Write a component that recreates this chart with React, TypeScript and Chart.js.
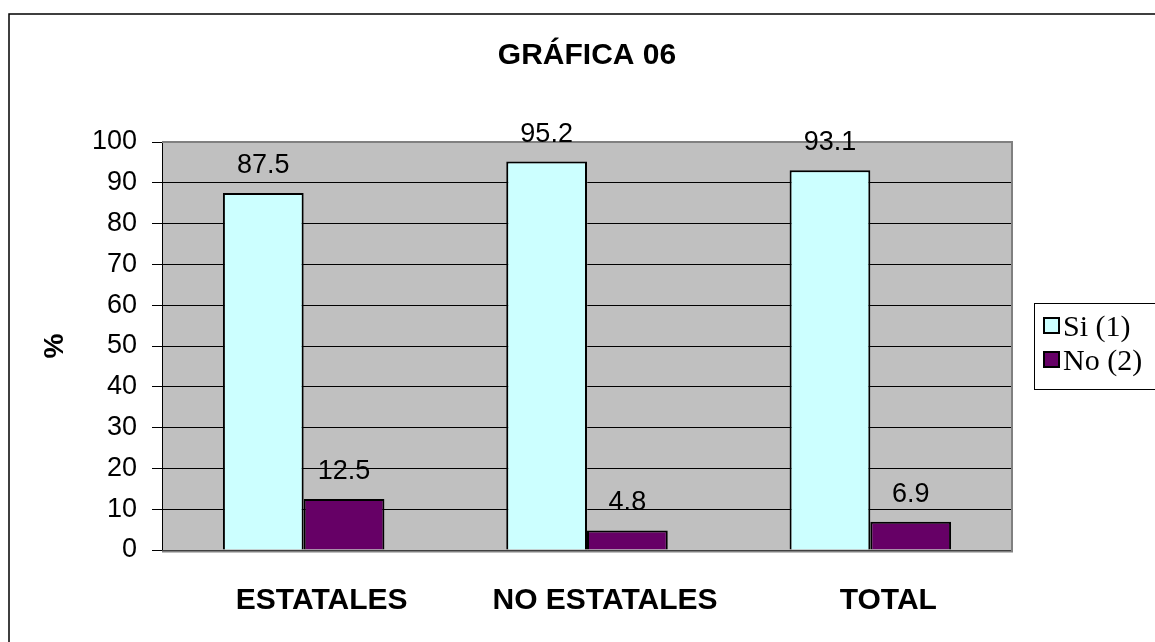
import React, { useEffect, useRef } from "react";
import { Chart, registerables } from "chart.js";

Chart.register(...registerables);

const chartTitle = "GRÁFICA 06";
const yAxisTitle = "%";
const categories = ["ESTATALES", "NO ESTATALES", "TOTAL"];
const seriesNames = ["Si (1)", "No (2)"];
const siValues = [87.5, 95.2, 93.1];
const noValues = [12.5, 4.8, 6.9];
const yMin = 0;
const yMax = 100;
const yStep = 10;

const SANS = "'Liberation Sans', Arial, sans-serif";
const SERIF = "'Liberation Serif', 'Times New Roman', serif";

const backgroundPlugin = {
  id: "bgFrame",
  beforeDraw(chart: any) {
    const { ctx, chartArea: a } = chart;
    ctx.save();
    ctx.fillStyle = "#ffffff";
    ctx.fillRect(0, 0, chart.width, chart.height);
    ctx.fillStyle = "#C0C0C0";
    ctx.fillRect(a.left, a.top, a.right - a.left, a.bottom - a.top);
    ctx.strokeStyle = "#000000";
    ctx.lineWidth = 1.5;
    ctx.strokeRect(9, 14, chart.width + 40, chart.height + 40);
    ctx.restore();
  },
  beforeDatasetsDraw(chart: any) {
    const { ctx, chartArea: a } = chart;
    ctx.save();
    ctx.strokeStyle = "#808080";
    ctx.lineWidth = 2;
    ctx.beginPath();
    ctx.moveTo(a.left, a.top);
    ctx.lineTo(a.right, a.top);
    ctx.lineTo(a.right, a.bottom + 1.5);
    ctx.lineTo(a.left, a.bottom + 1.5);
    ctx.stroke();
    ctx.restore();
  },
};

const valueLabelPlugin = {
  id: "valueLabels",
  afterDatasetsDraw(chart: any) {
    const { ctx } = chart;
    ctx.save();
    ctx.fillStyle = "#000000";
    ctx.font = `27px ${SANS}`;
    ctx.textAlign = "center";
    ctx.textBaseline = "alphabetic";
    chart.data.datasets.forEach((ds: any, di: number) => {
      const meta = chart.getDatasetMeta(di);
      meta.data.forEach((el: any, i: number) => {
        ctx.fillText(String(ds.data[i]), el.x, el.y - 20);
      });
    });
    ctx.restore();
  },
};

const legendPlugin = {
  id: "boxLegend",
  afterDraw(chart: any) {
    const { ctx } = chart;
    ctx.save();
    ctx.fillStyle = "#ffffff";
    ctx.fillRect(1034, 303, 200, 86);
    ctx.strokeStyle = "#000000";
    ctx.lineWidth = 1;
    ctx.strokeRect(1034.5, 303.5, 200, 86);
    chart.data.datasets.forEach((ds: any, i: number) => {
      const y = 318 + i * 34;
      ctx.fillStyle = ds.backgroundColor;
      ctx.fillRect(1044, y, 15, 15);
      ctx.strokeStyle = "#000000";
      ctx.lineWidth = 2;
      ctx.strokeRect(1044, y, 15, 15);
      ctx.fillStyle = "#000000";
      ctx.font = `30px ${SERIF}`;
      ctx.textAlign = "left";
      ctx.textBaseline = "alphabetic";
      ctx.fillText(ds.label, 1063, 336 + i * 34);
    });
    ctx.restore();
  },
};

export default function App() {
  const canvasRef = useRef<HTMLCanvasElement | null>(null);

  useEffect(() => {
    if (!canvasRef.current) return;
    const chart = new Chart(canvasRef.current, {
      type: "bar",
      data: {
        labels: categories,
        datasets: [
          {
            label: seriesNames[0],
            data: siValues,
            backgroundColor: "#CCFFFF",
            borderColor: "#000000",
            borderWidth: 2,
            categoryPercentage: 0.57,
            barPercentage: 1.0,
          },
          {
            label: seriesNames[1],
            data: noValues,
            backgroundColor: "#660066",
            borderColor: "#000000",
            borderWidth: 2,
            categoryPercentage: 0.57,
            barPercentage: 1.0,
          },
        ],
      },
      options: {
        responsive: false,
        animation: false,
        layout: { padding: { left: 30, right: 143, top: 0, bottom: 0 } },
        plugins: {
          legend: { display: false },
          tooltip: { enabled: false },
          title: {
            display: true,
            text: chartTitle,
            fullSize: false,
            color: "#000000",
            font: { family: SANS, size: 30, weight: "bold" },
            padding: { top: 38, bottom: 68 },
          },
        },
        scales: {
          x: {
            grid: { display: false, drawTicks: false },
            border: { display: true, color: "#000000", width: 1 },
            ticks: {
              color: "#000000",
              font: { family: SANS, size: 30, weight: "bold" },
              padding: 33,
              labelOffset: 18,
              maxRotation: 0,
              autoSkip: false,
            },
            afterFit: (s: any) => {
              s.height = 92;
            },
          },
          y: {
            min: yMin,
            max: yMax,
            ticks: {
              stepSize: yStep,
              color: "#000000",
              font: { family: SANS, size: 27 },
              padding: 15,
            },
            grid: { color: "#000000", lineWidth: 1, tickLength: 10, drawTicks: true },
            border: { display: true, color: "#000000", width: 1 },
            title: {
              display: true,
              text: yAxisTitle,
              color: "#000000",
              font: { family: SANS, size: 28, weight: "bold" },
              padding: { top: 8, bottom: 0 },
            },
            afterFit: (s: any) => {
              s.width = 132;
            },
          },
        },
      },
      plugins: [backgroundPlugin, valueLabelPlugin, legendPlugin],
    });
    return () => chart.destroy();
  }, []);

  return (
    <div style={{ position: "absolute", left: 0, top: 0, width: 1155, height: 642 }}>
      <canvas ref={canvasRef} width={1155} height={642} style={{ display: "block" }} />
    </div>
  );
}
